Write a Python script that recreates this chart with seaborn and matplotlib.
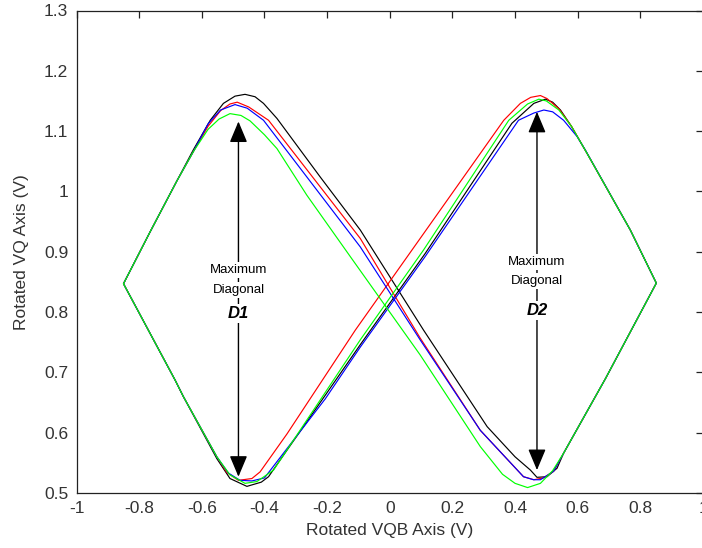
import matplotlib
matplotlib.use("Agg")
import matplotlib.pyplot as plt
import seaborn as sns
import pandas as pd

# Trajectory traces in the rotated VQB / VQ plane (volts), each a closed bow-tie loop
green_x = [-0.850, -0.765, -0.680, -0.627, -0.580, -0.545, -0.510, -0.475, -0.446, -0.400,
           -0.360, -0.265, -0.126, 0.097, 0.289, 0.360, 0.400, 0.440, 0.481, 0.520,
           0.555, 0.689, 0.851, 0.768, 0.630, 0.580, 0.540, 0.500, 0.476, 0.440,
           0.380, 0.108, -0.094, -0.371, -0.424, -0.462, -0.510, -0.552, -0.659, -0.685,
           -0.850]
green_y = [0.847, 0.933, 1.017, 1.066, 1.103, 1.120, 1.129, 1.126, 1.117, 1.094,
           1.071, 0.994, 0.892, 0.729, 0.577, 0.531, 0.516, 0.509, 0.516, 0.537,
           0.566, 0.690, 0.848, 0.936, 1.063, 1.108, 1.135, 1.150, 1.153, 1.145,
           1.118, 0.903, 0.754, 0.538, 0.519, 0.516, 0.530, 0.560, 0.660, 0.687,
           0.847]

black_x = [-0.850, -0.765, -0.680, -0.627, -0.573, -0.531, -0.494, -0.462, -0.430, -0.403,
           -0.360, -0.222, -0.094, 0.108, 0.311, 0.400, 0.449, 0.470, 0.502, 0.534,
           0.555, 0.689, 0.851, 0.768, 0.630, 0.580, 0.545, 0.520, 0.497, 0.460,
           0.390, 0.113, -0.094, -0.206, -0.387, -0.410, -0.456, -0.510, -0.552, -0.659,
           -0.685, -0.850]
black_y = [0.847, 0.933, 1.017, 1.069, 1.118, 1.146, 1.158, 1.161, 1.157, 1.146,
           1.121, 1.024, 0.936, 0.770, 0.610, 0.560, 0.538, 0.526, 0.527, 0.541,
           0.566, 0.690, 0.848, 0.936, 1.063, 1.108, 1.135, 1.148, 1.153, 1.146,
           1.113, 0.897, 0.746, 0.662, 0.527, 0.518, 0.511, 0.524, 0.557, 0.660,
           0.687, 0.847]

red_x = [-0.850, -0.765, -0.680, -0.627, -0.580, -0.540, -0.510, -0.487, -0.450, -0.387,
         -0.094, 0.097, 0.289, 0.427, 0.460, 0.490, 0.523, 0.555, 0.689, 0.851,
         0.768, 0.630, 0.580, 0.540, 0.502, 0.481, 0.450, 0.417, 0.364, 0.097,
         -0.110, -0.328, -0.414, -0.440, -0.483, -0.520, -0.552, -0.659, -0.685, -0.850]
red_y = [0.847, 0.933, 1.017, 1.066, 1.108, 1.134, 1.145, 1.148, 1.140, 1.118,
         0.922, 0.757, 0.604, 0.527, 0.522, 0.525, 0.536, 0.566, 0.690, 0.848,
         0.936, 1.063, 1.108, 1.137, 1.154, 1.159, 1.156, 1.146, 1.118, 0.922,
         0.770, 0.598, 0.535, 0.524, 0.521, 0.534, 0.560, 0.660, 0.687, 0.847]

blue_x = [-0.850, -0.765, -0.680, -0.627, -0.580, -0.540, -0.494, -0.455, -0.403, -0.094,
          0.097, 0.289, 0.427, 0.459, 0.481, 0.523, 0.555, 0.689, 0.851, 0.768,
          0.624, 0.598, 0.555, 0.520, 0.492, 0.460, 0.411, 0.113, -0.094, -0.206,
          -0.400, -0.440, -0.478, -0.515, -0.552, -0.659, -0.685, -0.850]
blue_y = [0.847, 0.933, 1.017, 1.066, 1.112, 1.135, 1.144, 1.138, 1.118, 0.908,
          0.754, 0.604, 0.527, 0.522, 0.522, 0.536, 0.566, 0.690, 0.848, 0.936,
          1.069, 1.091, 1.118, 1.132, 1.135, 1.130, 1.118, 0.892, 0.742, 0.656,
          0.525, 0.520, 0.521, 0.533, 0.560, 0.660, 0.687, 0.847]

series_order = ["black", "red", "blue", "green"]
series_colors = {"black": "#000000", "red": "#ff0000", "blue": "#0000ff", "green": "#00ff00"}

x_ticks = [-1, -0.8, -0.6, -0.4, -0.2, 0, 0.2, 0.4, 0.6, 0.8, 1]
x_tick_labels = ["-1", "-0.8", "-0.6", "-0.4", "-0.2", "0", "0.2", "0.4", "0.6", "0.8", "1"]
y_ticks = [0.5, 0.6, 0.7, 0.8, 0.9, 1.0, 1.1, 1.2, 1.3]
y_tick_labels = ["0.5", "0.6", "0.7", "0.8", "0.9", "1", "1.1", "1.2", "1.3"]

# Diagonal markers: x position, lower tip, upper tip, label
d1 = dict(x=-0.483, lo=0.527, hi=1.116, label="D1")
d2 = dict(x=0.470, lo=0.538, hi=1.132, label="D2")

frames = []
for name, xs, ys in [("black", black_x, black_y), ("red", red_x, red_y),
                     ("blue", blue_x, blue_y), ("green", green_x, green_y)]:
    frames.append(pd.DataFrame({"x": xs, "y": ys, "series": name, "idx": range(len(xs))}))
df = pd.concat(frames, ignore_index=True)

sns.set_style("white")
plt.rcParams["font.family"] = ["Liberation Sans", "DejaVu Sans"]

fig = plt.figure(figsize=(7.02, 5.48), dpi=100)
ax = fig.add_axes([76.5 / 702, (548 - 493) / 548, (703 - 76.5) / 702, (493 - 10.5) / 548])

sns.lineplot(data=df, x="x", y="y", hue="series", hue_order=series_order,
             palette=series_colors, sort=False, estimator=None, units="series",
             linewidth=0.85, legend=False, ax=ax)

ax.set_xlim(-1, 1)
ax.set_ylim(0.5, 1.3)
ax.set_xticks(x_ticks)
ax.set_xticklabels(x_tick_labels)
ax.set_yticks(y_ticks)
ax.set_yticklabels(y_tick_labels)
ax.tick_params(direction="in", length=5, width=0.9, color="#222222",
               labelsize=12.5, labelcolor="#333333", pad=6,
               top=True, right=True)
for sp in ax.spines.values():
    sp.set_color("#222222")
    sp.set_linewidth(0.9)

ax.set_xlabel("Rotated VQB Axis (V)", fontsize=12.5, color="#333333", labelpad=5)
ax.set_ylabel("Rotated VQ Axis (V)", fontsize=12.5, color="#333333", labelpad=11)

for d, ys in [(d1, (0.870, 0.837, 0.797)), (d2, (0.883, 0.851, 0.803))]:
    ax.annotate("", xy=(d["x"], d["hi"]), xytext=(d["x"], d["lo"]),
                arrowprops=dict(arrowstyle="<|-|>,head_length=1.0,head_width=0.42",
                                mutation_scale=13, color="black", lw=1.0,
                                shrinkA=0, shrinkB=0), zorder=5)
    box = dict(facecolor="white", edgecolor="none", pad=1.5)
    ax.text(d["x"], ys[0], "Maximum", ha="center", va="center", fontsize=9.5,
            color="black", bbox=box, zorder=6)
    ax.text(d["x"], ys[1], "Diagonal", ha="center", va="center", fontsize=9.5,
            color="black", bbox=box, zorder=6)
    ax.text(d["x"], ys[2], d["label"], ha="center", va="center", fontsize=12,
            fontweight="bold", fontstyle="italic", color="black", bbox=box, zorder=6)

fig.savefig("out.png", dpi=100)
